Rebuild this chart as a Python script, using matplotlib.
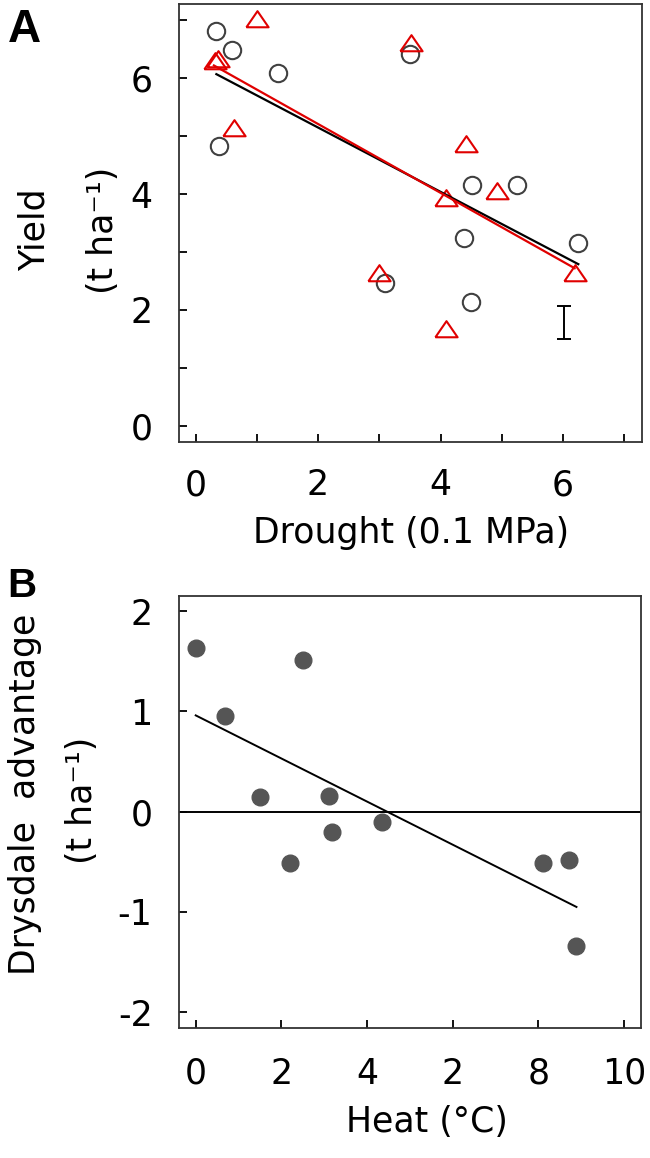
import numpy as np
import matplotlib.pyplot as plt

# Panel A: yield vs drought, two cultivars
circ_x = [0.33, 0.59, 1.34, 0.39, 3.50, 4.52, 5.25, 4.39, 6.24, 3.09, 4.50]
circ_y = [6.81, 6.48, 6.09, 4.83, 6.41, 4.15, 4.15, 3.24, 3.15, 2.47, 2.14]
tri_x = [1.00, 0.32, 0.36, 3.52, 0.63, 4.42, 4.92, 4.09, 3.00, 4.09, 6.19]
tri_y = [7.03, 6.30, 6.34, 6.60, 5.14, 4.87, 4.05, 3.94, 2.63, 1.67, 2.63]
fit_black_x = [0.34, 6.25]
fit_black_y = [6.07, 2.79]
fit_red_x = [0.30, 6.19]
fit_red_y = [6.22, 2.72]
err_x = 6.01
err_lo, err_hi = 1.50, 2.06

# Panel B: Drysdale advantage vs heat
heat_x = [0.01, 2.51, 0.68, 1.49, 3.11, 4.35, 3.19, 2.20, 8.12, 8.72, 8.87]
adv_y = [1.635, 1.51, 0.95, 0.15, 0.16, -0.10, -0.20, -0.51, -0.51, -0.48, -1.34]
fitB_x = [0.0, 8.89]
fitB_y = [0.96, -0.95]
heat_ticks = [0, 2, 4, 6, 8, 10]
heat_labels = ['0', '2', '4', '2', '8', '10']

plt.rcParams['font.family'] = ['DejaVu Sans']
fs = 25
W, H = 650, 1158

fig = plt.figure(figsize=(6.5, 11.58), dpi=100)
axA = fig.add_axes([0.2754, 0.6183, 0.7123, 0.3782])
axB = fig.add_axes([0.2754, 0.1120, 0.7103, 0.3733])

tri = [(-1, -0.7), (1, -0.7), (0, 0.75), (-1, -0.7)]

axA.plot(circ_x, circ_y, linestyle='none', marker='o', ms=12.5, mfc='none',
         mec='#404040', mew=1.5)
axA.plot(tri_x, tri_y, linestyle='none', marker=tri, ms=16, mfc='none',
         mec='#e00000', mew=1.5)
axA.plot(fit_black_x, fit_black_y, color='black', lw=1.6)
axA.plot(fit_red_x, fit_red_y, color='#e00000', lw=1.6)
axA.errorbar([err_x], [(err_lo + err_hi) / 2], yerr=[(err_hi - err_lo) / 2],
             color='black', capsize=5, lw=1.4, capthick=1.4)
axA.set_xlim(-0.27, 7.29)
axA.set_ylim(-0.28, 7.28)
axA.set_xticks(range(8))
axA.set_xticklabels(['0', '', '2', '', '4', '', '6', ''])
axA.set_yticks(range(8))
axA.set_yticklabels(['0', '', '2', '', '4', '', '6', ''])

axB.plot(heat_x, adv_y, linestyle='none', marker='o', ms=12, color='#555555')
axB.plot(fitB_x, fitB_y, color='black', lw=1.4)
axB.axhline(0, color='black', lw=1.4)
axB.set_xlim(-0.39, 10.39)
axB.set_ylim(-2.16, 2.15)
axB.set_xticks(heat_ticks)
axB.set_xticklabels(heat_labels)
axB.set_yticks([-2, -1, 0, 1, 2])
axB.set_yticklabels(['-2', '-1', '0', '1', '2'])

for ax in (axA, axB):
    ax.tick_params(direction='in', length=6, width=1.3, labelsize=fs,
                   colors='black')
    ax.tick_params(axis='x', pad=19)
    ax.tick_params(axis='y', pad=19)
    for s in ax.spines.values():
        s.set_color('#333333')
        s.set_linewidth(1.3)
axB.tick_params(axis='x', pad=20.5)
axB.tick_params(axis='y', pad=19)

fig.text(411 / W, 1 - 543 / H, 'Drought (0.1 MPa)', fontsize=fs,
         ha='center', va='baseline')
fig.text(427 / W, 1 - 1132 / H, 'Heat (°C)', fontsize=fs,
         ha='center', va='baseline')

def ylab(x, y, s):
    fig.text(x / W, 1 - y / H, s, fontsize=fs, rotation=90,
             rotation_mode='anchor', ha='center', va='baseline')

ylab(45, 230, 'Yield')
ylab(113, 230, '(t ha⁻¹)')
ylab(35, 794, 'Drysdale  advantage')
ylab(92, 800, '(t ha⁻¹)')

fig.text(24 / W, 1 - 30 / H, 'A', fontsize=33, fontweight='bold',
         family='Liberation Sans', ha='center', va='center')
fig.text(21.5 / W, 1 - 586 / H, 'B', fontsize=29, fontweight='bold',
         family='Liberation Sans', ha='center', va='center')

fig.savefig('out.png', dpi=100)
